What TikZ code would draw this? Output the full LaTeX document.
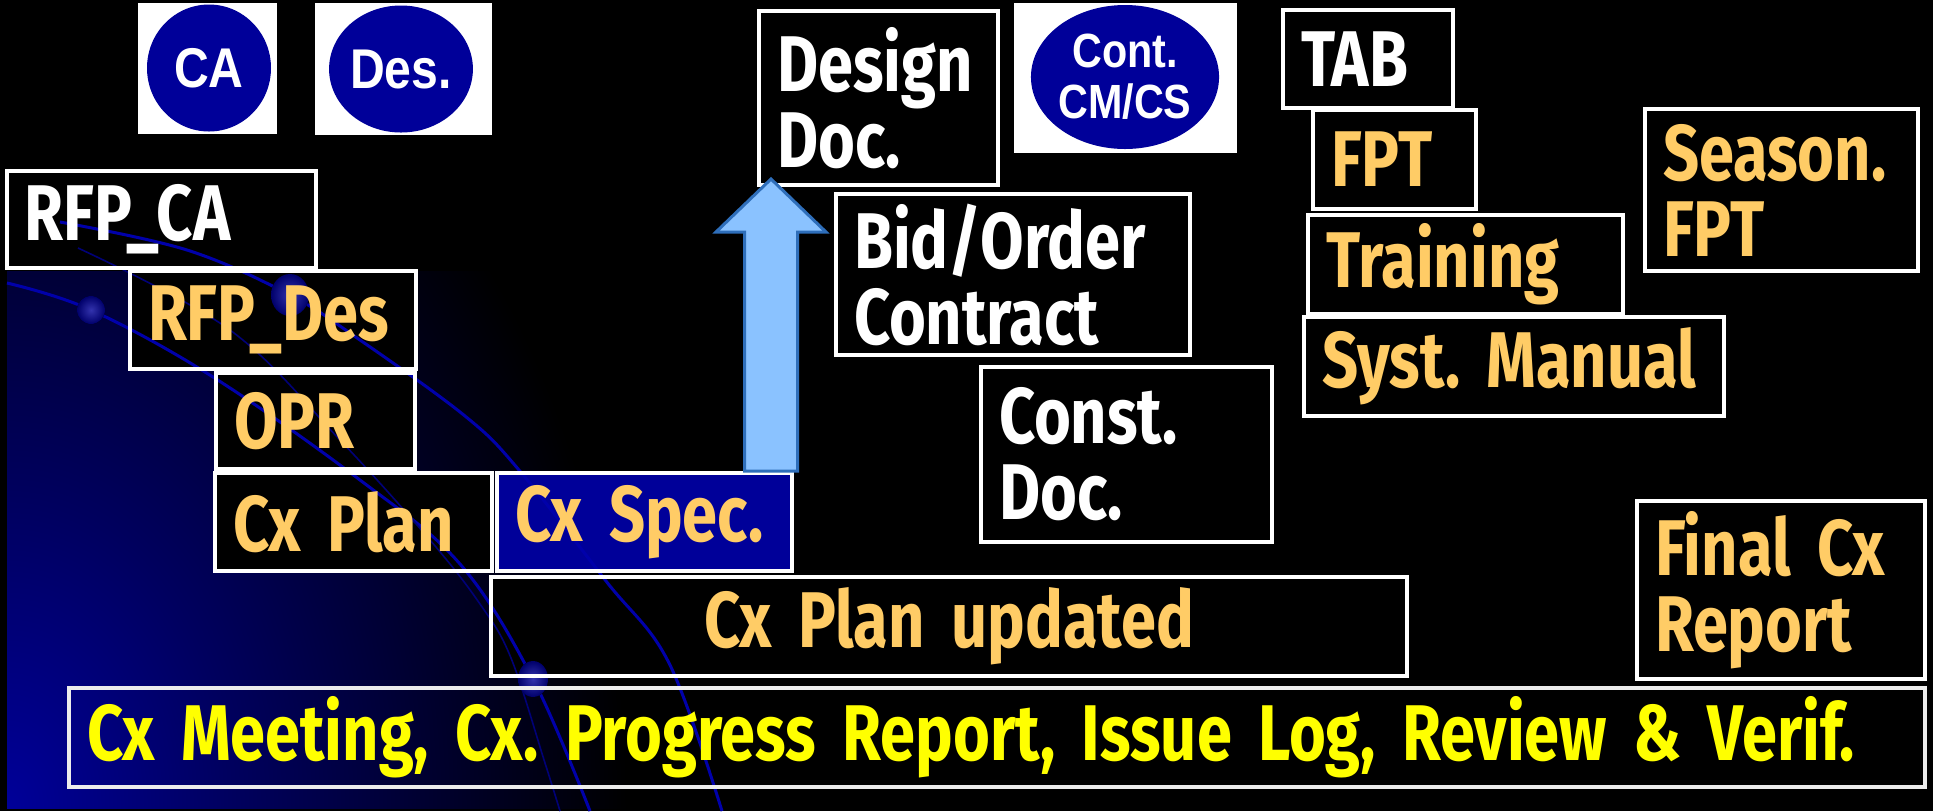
\documentclass[tikz,border=0pt]{standalone}
\usepackage{fontspec}
\newfontfamily\cxfam[FakeStretch=0.8]{Fira Sans}
\newfontfamily\logofam[FakeStretch=0.86]{Liberation Sans}
\usetikzlibrary{shapes.geometric}
\definecolor{cxorange}{RGB}{255,204,102}
\definecolor{cxyellow}{RGB}{255,255,0}
\definecolor{cxnavy}{RGB}{0,0,153}
\definecolor{cxline}{RGB}{0,0,170}
\definecolor{arrowfill}{RGB}{138,194,255}
\definecolor{arrowedge}{RGB}{46,110,186}
\newcommand\cxtext{\cxfam\bfseries\fontsize{39.5pt}{38pt}\selectfont\hyphenpenalty=10000\exhyphenpenalty=10000}
\pgfdeclareradialshading{cxglow}{\pgfpointorigin}{color(0bp)=(cxnavy); color(9bp)=(cxnavy!62!black); color(25bp)=(black); color(50bp)=(black)}
\pgfdeclarelayer{bg}
\pgfdeclarelayer{deco}
\pgfsetlayers{bg,deco,main}
\tikzset{
  cxbox/.style={draw=white, line width=2pt, inner xsep=9pt, inner ysep=0pt, align=left, font=\cxtext},
  logobox/.style={fill=white, inner sep=0pt},
  logodisc/.style={ellipse, fill=cxnavy, text=white, inner sep=0pt, align=center},
  cxarrow/.style={fill=arrowfill, draw=arrowedge, line width=1.5pt, line join=miter},
  cxcurve/.style={draw=cxline, line width=1.5pt},
  cxdot/.style={inner color=cxnavy!80!white, outer color=cxnavy!70!black},
}
\begin{document}
\begin{tikzpicture}[x=0.5pt, y=-0.5pt]
\useasboundingbox (0,0) rectangle (1933,811);

% logos
\node[logobox, minimum width=69.5pt, minimum height=65.5pt] (calogo) at (207.5,68.5) {};
\node[logodisc, minimum width=62pt, minimum height=63.5pt, font=\logofam\bfseries\fontsize{28pt}{30pt}\selectfont] (cadisc) at (209,68) {CA};
\node[logobox, minimum width=88.5pt, minimum height=66pt] (deslogo) at (403.5,69) {};
\node[logodisc, minimum width=62.5pt, minimum height=63.5pt, font=\logofam\bfseries\fontsize{28pt}{30pt}\selectfont] (desdisc) at (401,69) {Des.};
\node[logobox, minimum width=111.5pt, minimum height=75pt] (contlogo) at (1125.5,78) {};
\node[logodisc, minimum width=86pt, minimum height=72pt, font=\logofam\bfseries\fontsize{24pt}{25.5pt}\selectfont] (contdisc) at (1125,77) {Cont.\\CM/CS};

% boxes
\node[cxbox, text=white, minimum height=48.5pt, text width=136.5pt] (rfpca) at (161.5,219.5) {RFP\_CA};
\node[cxbox, text=cxorange, minimum height=49pt, text width=125pt] (rfpdes) at (273,320) {RFP\_Des};
\node[cxbox, text=cxorange, minimum height=48pt, text width=81.5pt] (opr) at (315.5,421) {OPR};
\node[cxbox, text=cxorange, minimum height=49pt, text width=120.5pt] (cxplan) at (353.5,522) {Cx~Plan};
\node[cxbox, text=cxorange, minimum height=49pt, text width=129.5pt] (cxspec) at (644.5,522) {Cx~Spec.};
\node[cxbox, text=cxorange, minimum height=49.5pt, text width=440pt, align=center] (cxplanup) at (949,626.5) {Cx~Plan~updated};
\node[cxbox, text=cxyellow, draw=white!85!gray, minimum height=49.5pt, text width=910pt] (cxmeet) at (997,737.5) {Cx~Meeting,~Cx.~Progress~Report,~Issue~Log,~Review~\&~Verif.};
\node[cxbox, text=white, minimum height=87pt, text width=101.5pt] (designdoc) at (878.5,98) {Design\\Doc.};
\node[cxbox, text=white, minimum height=80.5pt, text width=159pt] (bidorder) at (1013,274.5) {Bid/Order\\Contract};
\node[cxbox, text=white, minimum height=87.5pt, text width=127.5pt] (constdoc) at (1126.5,454.5) {Const.\\Doc.};
\node[cxbox, text=white, minimum height=49pt, text width=67pt] (tab) at (1368,59) {TAB};
\node[cxbox, text=cxorange, minimum height=49.5pt, text width=63.5pt] (fpt) at (1394.5,159.5) {FPT};
\node[cxbox, text=cxorange, minimum height=49.5pt, text width=139.5pt] (training) at (1465.5,264.5) {Training};
\node[cxbox, text=cxorange, minimum height=49.5pt, text width=192pt] (systman) at (1514,366.5) {Syst.~Manual};
\node[cxbox, text=cxorange, minimum height=81pt, text width=118.5pt] (season) at (1781.5,190) {Season.\\FPT};
\node[cxbox, text=cxorange, minimum height=89pt, text width=126pt] (finalcx) at (1781,590) {Final~Cx\\Report};

% arrow
\coordinate (arrtail) at (771,0 |- cxspec.north);
\coordinate (arrtip) at (771,0 |- designdoc.south);
\draw[cxarrow] ([xshift=-13.25pt]arrtail) -- ([xshift=-13.25pt,yshift=-22.5pt]arrtip) -- ([xshift=-27.5pt,yshift=-22.5pt]arrtip)
  -- ([yshift=4pt]arrtip) -- ([xshift=27.5pt,yshift=-22.5pt]arrtip) -- ([xshift=13.25pt,yshift=-22.5pt]arrtip) -- ([xshift=13.25pt]arrtail) -- cycle;

% background
\begin{pgfonlayer}{bg}
\fill[black] (0,0) rectangle (1933,811);
\begin{scope}
\clip (7,271) rectangle (1933,808);
\shade[shading=cxglow] (7,808) ellipse [x radius=310pt, y radius=430pt];
\end{scope}
\foreach \n in {rfpca,rfpdes,opr,cxplan,cxplanup,designdoc,bidorder,constdoc,tab,fpt,training,systman,season,finalcx}
  \fill[black] (\n.south west) rectangle (\n.north east);
\fill[cxnavy] (cxspec.south west) rectangle (cxspec.north east);
\end{pgfonlayer}

\begin{pgfonlayer}{deco}
\draw[cxcurve] plot[smooth, tension=0.6] coordinates {(7,283) (91,310) (213,377) (360,480) (460,564) (533,679) (590,811)};
\draw[cxcurve] plot[smooth, tension=0.6] coordinates {(60,222) (187,250) (290,295) (360,340) (465,416) (519,470) (606,581) (669,663) (722,811)};
\draw[cxcurve, line width=0.8pt, draw=cxline!70!black] plot[smooth, tension=0.6] coordinates {(78,248) (230,330) (340,440) (430,540) (480,604) (511,658) (545,763) (560,811)};
\fill[cxdot] (91,310) circle [radius=7pt];
\fill[cxdot] (290,295) ellipse [x radius=9.5pt, y radius=10.5pt];
\fill[cxdot] (533,679) ellipse [x radius=7.5pt, y radius=9pt];
\end{pgfonlayer}
\end{tikzpicture}
\end{document}
